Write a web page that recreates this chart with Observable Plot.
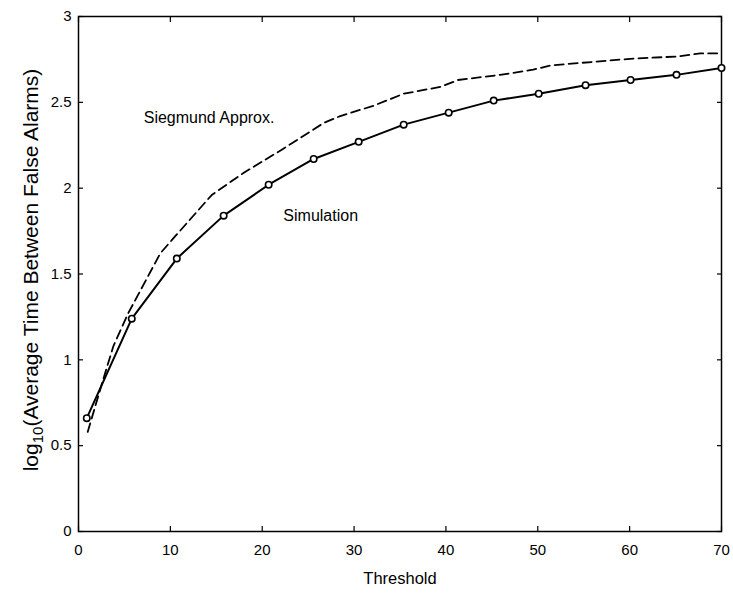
<!DOCTYPE html>
<html>
<head>
<meta charset="utf-8">
<script src="https://cdn.jsdelivr.net/npm/d3@7"></script>
<script src="https://cdn.jsdelivr.net/npm/@observablehq/plot@0.6"></script>
<style>
  html, body { margin: 0; padding: 0; background: #fff; }
  #chart svg { font-family: "Liberation Sans", Arial, Helvetica, sans-serif; }
</style>
</head>
<body>
<div id="chart"></div>
<script>
// Simulation (solid line with circles)
const simThreshold = [0.9, 5.8, 10.7, 15.8, 20.7, 25.6, 30.5, 35.4, 40.3, 45.2, 50.1, 55.2, 60.1, 65.1, 70];
const simValue     = [0.66, 1.24, 1.59, 1.84, 2.02, 2.17, 2.27, 2.37, 2.44, 2.51, 2.55, 2.60, 2.63, 2.66, 2.70];

// Siegmund approximation (dashed line)
const sieThreshold = [1.0, 2.6, 3.8, 5.4, 7.5, 8.9, 10.2, 14.5, 18.0, 22.0, 26.7, 28.5, 32.1, 35.4, 39.4, 41.3, 45.9, 49.5, 51.4, 60.4, 65.2, 67.7, 70];
const sieValue     = [0.58, 0.87, 1.08, 1.27, 1.48, 1.62, 1.70, 1.96, 2.09, 2.22, 2.38, 2.42, 2.48, 2.55, 2.59, 2.63, 2.66, 2.69, 2.715, 2.755, 2.767, 2.785, 2.785];

const xTicks = [0, 10, 20, 30, 40, 50, 60, 70];
const yTicks = [0, 0.5, 1, 1.5, 2, 2.5, 3];

const labels = [
  {text: "Siegmund Approx.", t: 7.1, v: 2.41},
  {text: "Simulation", t: 22.3, v: 1.84}
];

const sim = simThreshold.map((t, i) => ({t, v: simValue[i]}));
const sie = sieThreshold.map((t, i) => ({t, v: sieValue[i]}));

const fmt = d => String(d);

const chart = Plot.plot({
  width: 733,
  height: 600,
  marginLeft: 78,
  marginRight: 12,
  marginTop: 16,
  marginBottom: 69,
  style: {fontFamily: '"Liberation Sans", Arial, Helvetica, sans-serif', background: "#fff", color: "#000"},
  x: {domain: [0, 70]},
  y: {domain: [0, 3]},
  marks: [
    Plot.frame({stroke: "#000", strokeWidth: 1.5}),
    // inward ticks on all four sides
    Plot.axisX(xTicks, {anchor: "bottom", tickSize: -5, tickFormat: () => "", label: null, strokeWidth: 1.2}),
    Plot.axisX(xTicks, {anchor: "top", tickSize: -5, tickFormat: () => "", label: null, strokeWidth: 1.2}),
    Plot.axisY(yTicks, {anchor: "left", tickSize: -5, tickFormat: () => "", label: null, strokeWidth: 1.2}),
    Plot.axisY(yTicks, {anchor: "right", tickSize: -5, tickFormat: () => "", label: null, strokeWidth: 1.2}),
    // tick labels
    Plot.axisX(xTicks, {anchor: "bottom", tickSize: 0, tickPadding: 13, tickFormat: fmt, label: null, fontSize: 15}),
    Plot.axisY(yTicks, {anchor: "left", tickSize: 0, tickPadding: 7, tickFormat: fmt, label: null, fontSize: 15}),
    // axis titles
    Plot.text(["Threshold"], {frameAnchor: "bottom", dy: 47, fontSize: 16.5, lineAnchor: "middle", textAnchor: "middle"}),
    Plot.text(["log10(Average Time Between False Alarms)"], {frameAnchor: "left", rotate: -90, dx: -47, dy: -4, fontSize: 21, lineAnchor: "middle", textAnchor: "middle", className: "ylabel"}),
    // data
    Plot.line(sie, {x: "t", y: "v", stroke: "#000", strokeWidth: 1.8, strokeDasharray: "9,5"}),
    Plot.line(sim, {x: "t", y: "v", stroke: "#000", strokeWidth: 2}),
    Plot.dot(sim, {x: "t", y: "v", r: 3.2, stroke: "#000", strokeWidth: 1.6, fill: "#fff"}),
    // annotations
    Plot.text(labels, {x: "t", y: "v", text: "text", textAnchor: "start", fontSize: 16})
  ]
});

document.getElementById("chart").appendChild(chart);

// render "10" of log10 as a subscript
const yl = chart.querySelector(".ylabel text");
if (yl) {
  yl.textContent = "";
  const ns = "http://www.w3.org/2000/svg";
  const a = document.createElementNS(ns, "tspan"); a.textContent = "log";
  const b = document.createElementNS(ns, "tspan"); b.textContent = "10"; b.setAttribute("dy", "5"); b.setAttribute("font-size", "15");
  const c = document.createElementNS(ns, "tspan"); c.textContent = "(Average Time Between False Alarms)"; c.setAttribute("dy", "-5");
  yl.append(a, b, c);
}
</script>
</body>
</html>
